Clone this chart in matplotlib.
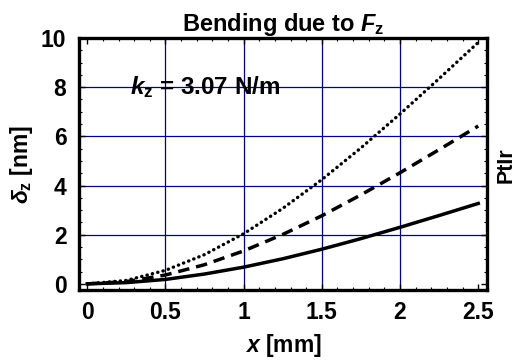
import matplotlib
matplotlib.use("Agg")
import matplotlib.pyplot as plt
from matplotlib.ticker import MultipleLocator

plt.rcParams['font.family'] = ['Liberation Sans', 'DejaVu Sans']
plt.rcParams['font.weight'] = 'bold'
plt.rcParams['mathtext.fontset'] = 'custom'
plt.rcParams['mathtext.rm'] = 'Liberation Sans:bold'
plt.rcParams['mathtext.it'] = 'Liberation Sans:bold:italic'
plt.rcParams['mathtext.bf'] = 'Liberation Sans:bold'

# positions along the cantilever [mm]
x_mm = [0, 0.25, 0.5, 0.75, 1.0, 1.25, 1.5, 1.75, 2.0, 2.25, 2.5]
# deflection [nm] for the three curves
delta_solid = [0, 0.05, 0.18, 0.40, 0.68, 1.02, 1.41, 1.84, 2.30, 2.78, 3.27]
delta_dashed = [0, 0.09, 0.36, 0.78, 1.34, 2.01, 2.77, 3.62, 4.52, 5.46, 6.42]
delta_dotted = [0, 0.14, 0.55, 1.19, 2.04, 3.07, 4.24, 5.53, 6.91, 8.35, 9.82]

x_ticks = [0, 0.5, 1, 1.5, 2, 2.5]
x_ticklabels = ['0', '0.5', '1', '1.5', '2', '2.5']
y_ticks = [0, 2, 4, 6, 8, 10]

fs = 16.5
fig = plt.figure(figsize=(5.18, 3.61), dpi=100)
ax = fig.add_axes([79 / 518, 1 - 290 / 361, (487 - 79) / 518, (290 - 38) / 361])

# inner grid lines only
for gx in x_ticks[1:-1]:
    ax.axvline(gx, color='#00008b', lw=0.9, zorder=1)
for gy in y_ticks[1:-1]:
    ax.axhline(gy, color='#00008b', lw=0.9, zorder=1)

ax.plot(x_mm, delta_solid, color='black', lw=2.5, ls='-', zorder=3)
ax.plot(x_mm, delta_dashed, color='black', lw=2.5, ls=(0, (3.3, 2)), zorder=3)
ax.plot(x_mm, delta_dotted, color='black', lw=2.4, ls=(0, (0.1, 1.55)),
        dash_capstyle='round', zorder=3)

ax.set_xlim(-0.053, 2.556)
ax.set_ylim(-0.25, 10)
ax.set_xticks(x_ticks)
ax.set_xticklabels(x_ticklabels)
ax.set_yticks(y_ticks)
ax.xaxis.set_minor_locator(MultipleLocator(0.1))
ax.yaxis.set_minor_locator(MultipleLocator(0.5))
ax.tick_params(which='both', direction='in', top=True, right=True, labelsize=fs)
ax.tick_params(axis='x', pad=8)
ax.tick_params(axis='y', pad=9)
ax.tick_params(which='major', length=4, width=1)
ax.tick_params(which='minor', length=2.5, width=0.8)
for s in ax.spines.values():
    s.set_linewidth(2.4)

ax.set_title(r'Bending due to $\mathit{F}_\mathrm{z}$', fontsize=17, fontweight='bold', pad=5)
ax.set_xlabel(r'$\mathit{x}$ [mm]', fontsize=fs, fontweight='bold', labelpad=6)
ax.set_ylabel(r'$\delta_\mathrm{z}$ [nm]', fontsize=fs, fontweight='bold', labelpad=4)
ax.text(0.27, 8, r'$\mathit{k}_\mathrm{z}$ = 3.07 N/m', fontsize=17.5, va='center', ha='left')
fig.text(506 / 518, 1 - 165 / 361, 'PtIr', rotation=90, fontsize=15.5, va='center', ha='center')

fig.savefig('out.png', dpi=100)
